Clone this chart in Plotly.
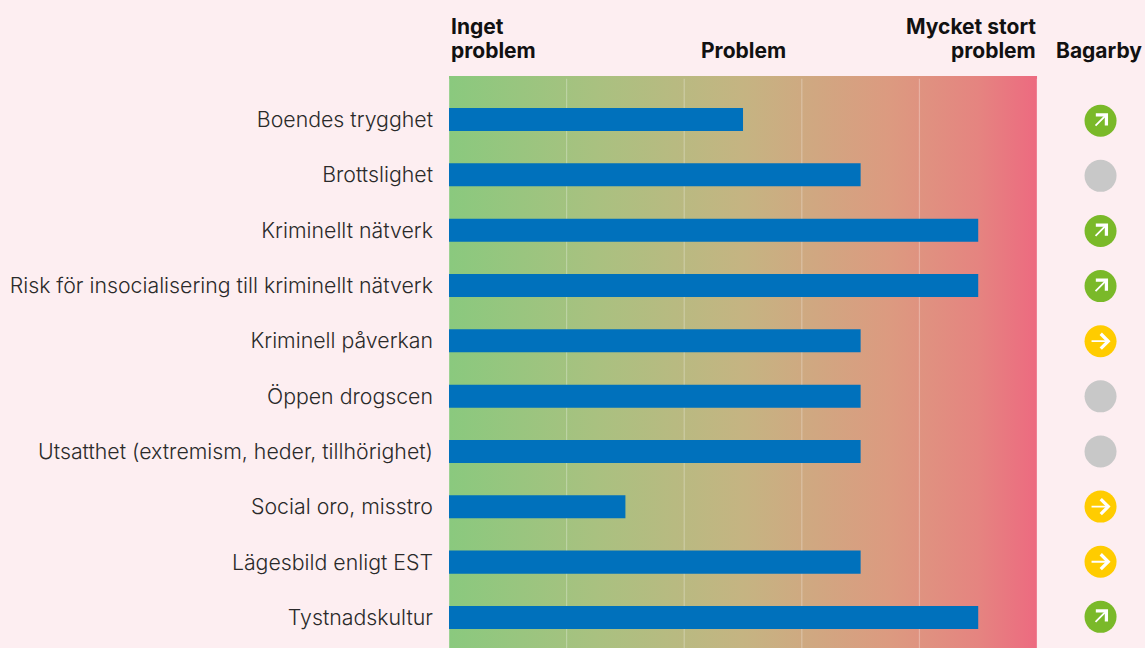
import plotly.graph_objects as go

categories = ["Boendes trygghet", "Brottslighet", "Kriminellt nätverk",
              "Risk för insocialisering till kriminellt nätverk", "Kriminell påverkan",
              "Öppen drogscen", "Utsatthet (extremism, heder, tillhörighet)",
              "Social oro, misstro", "Lägesbild enligt EST", "Tystnadskultur"]
values = [2.5, 3.5, 4.5, 4.5, 3.5, 3.5, 3.5, 1.5, 3.5, 4.5]
status = ["up", "none", "up", "up", "flat", "none", "none", "flat", "flat", "up"]
grid_positions = [0, 1, 2, 3, 4, 5]

BG = "#FDEEF1"
BAR = "#0071BC"
FONT = "Inter"
status_colors = {"up": "#7AB929", "flat": "#FFCC00", "none": "#C8C8C8"}
gradient = [[0, "#8AC97E"], [0.25, "#A9C180"], [0.5, "#C5B482"], [0.75, "#DC9A80"],
            [0.9, "#E58480"], [1, "#ED6A80"]]
DOT_X = 5.54
XMAX = 5.918
row_idx = list(range(len(categories)))

fig = go.Figure()

fig.add_trace(go.Scatter(x=[0, 5, 5, 0, 0], y=[0, 0, 1, 1, 0], mode="lines", fill="toself",
                         line=dict(width=0), hoverinfo="skip", showlegend=False,
                         fillgradient=dict(type="horizontal", colorscale=gradient)))
for g in grid_positions:
    fig.add_trace(go.Scatter(x=[g, g], y=[0, 0.995], mode="lines", hoverinfo="skip", showlegend=False,
                             line=dict(color="rgba(255,255,255,0.28)", width=1.2)))

fig.add_trace(go.Bar(x=values, y=row_idx, orientation="h", marker=dict(color=BAR, line=dict(width=0)),
                     width=0.416, xaxis="x2", yaxis="y2", showlegend=False))
fig.add_trace(go.Scatter(x=[DOT_X] * len(status), y=row_idx, mode="markers", xaxis="x2", yaxis="y3",
                         showlegend=False,
                         marker=dict(size=32, color=[status_colors[s] for s in status], line=dict(width=0))))

annotations = []
for i, s in enumerate(status):
    if s == "none":
        continue
    if s == "up":
        tx, ty, ax, ay = 7.5, 7.5, -8, -8
    else:
        tx, ty, ax, ay = 10, 0, -12, 0
    annotations.append(dict(x=DOT_X, y=i, xref="x2", yref="y3", xshift=tx, yshift=ty, ax=ax - tx, ay=-(ay - ty),
                            axref="pixel", ayref="pixel", text=" ", showarrow=True, arrowhead=4,
                            arrowsize=1.6, arrowwidth=1.8, arrowcolor="white", standoff=0, startstandoff=0))


def head(text, x, y, anchor):
    annotations.append(dict(text=text, x=x, y=y, xref="x2", yref="paper", xanchor=anchor, yanchor="middle",
                            showarrow=False, font=dict(family=FONT, size=21, color="#111111", weight=700)))


LINE1 = 1.0874
LINE2 = 1.0445
head("Inget", 0.0, LINE1, "left")
head("problem", 0.0, LINE2, "left")
head("Problem", 2.5, LINE2, "center")
head("Mycket stort", 5.01, LINE1, "right")
head("problem", 5.01, LINE2, "right")
head("Bagarby", 5.53, LINE2, "center")

fig.update_layout(
    width=1145, height=648, margin=dict(l=449, r=0, t=76, b=0, pad=0),
    paper_bgcolor=BG, plot_bgcolor=BG, showlegend=False, annotations=annotations,
    xaxis=dict(range=[0, XMAX], showgrid=False, zeroline=False, showticklabels=False, fixedrange=True),
    yaxis=dict(range=[0, 1], showgrid=False, zeroline=False, showticklabels=False, fixedrange=True),
    xaxis2=dict(range=[0, XMAX], overlaying="x", showgrid=False, zeroline=False, showticklabels=False, fixedrange=True),
    yaxis2=dict(range=[9.552, -0.786], overlaying="y", showgrid=False, zeroline=False, fixedrange=True,
                tickmode="array", tickvals=row_idx, ticktext=categories, ticks="",
                ticklabelstandoff=15, tickfont=dict(family=FONT, size=21.3, color="#2A2A2A", weight=300)),
    yaxis3=dict(range=[9.565, -0.811], overlaying="y", visible=False, fixedrange=True),
)
fig.write_html("out.html", config={"displayModeBar": False},
               post_script="document.body.style.margin='0';document.documentElement.style.background='%s';" % BG)
